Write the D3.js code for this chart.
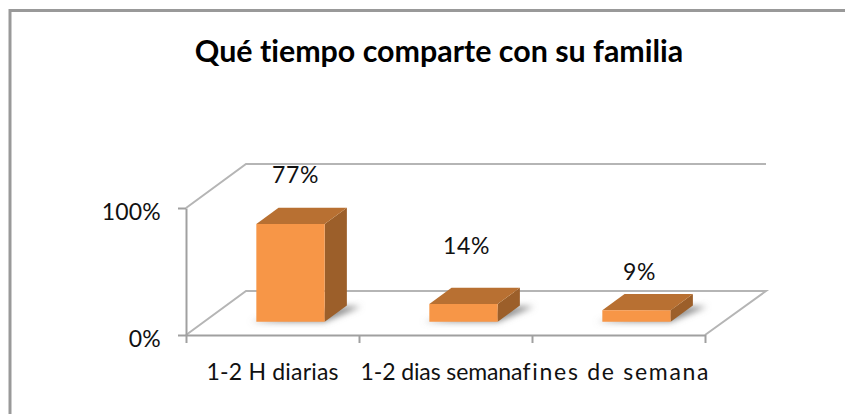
<!DOCTYPE html>
<html>
<head>
<meta charset="utf-8">
<script src="https://cdn.jsdelivr.net/npm/d3@7/dist/d3.min.js"></script>
<style>
  body { margin: 0; background: #fff; }
  svg { display: block; font-family: Lato, "Open Sans", sans-serif; font-variant-ligatures: none; }
  .wall { stroke: #b5b5b5; stroke-width: 2; fill: none; }
  .axis path, .axis line { stroke: #a0a0a0; stroke-width: 2; }
  .axis text { font-size: 23px; fill: #111; font-family: Lato, "Open Sans", sans-serif; }
</style>
</head>
<body>
<script>
var chartTitle = "Qué tiempo comparte con su familia";
var categories = ["1-2 H diarias", "1-2 dias semana", "fines de semana"];
var shares = [0.77, 0.14, 0.09];
var yTicks = [0, 1];

var width = 845, height = 414;
var plotLeft = 186, plotRight = 705, plotTop = 208, plotBottom = 335;

// depth of the fake 3d floor, and where the bars stand on it (0 front, 1 back)
var depthX = 60, depthY = -44;
var barFront = 0.3, barBack = 0.67;
var barShare = 0.395;
// the data labels were dragged by hand in the original
var labelLift = [25, 34, 14];
var labelShift = [5, 3, 3];
// the category labels are stretched and run into each other in the original
var tickLabelWidth = [132, 162, 186];
var tickLabelShift = [0, -4, -3];

var svg = d3.select("body").append("svg")
  .attr("width", width)
  .attr("height", height);

var defs = svg.append("defs");
defs.append("filter").attr("id", "soft")
  .attr("x", "-30%").attr("y", "-60%").attr("width", "160%").attr("height", "220%")
  .append("feGaussianBlur").attr("stdDeviation", 3);
defs.append("filter").attr("id", "edge")
  .append("feGaussianBlur").attr("stdDeviation", 0.5);

var x = d3.scaleBand().domain(categories).range([plotLeft, plotRight]);
var xEdges = d3.scaleLinear().domain([0, categories.length]).range([plotLeft, plotRight]);
var y = d3.scaleLinear().domain([0, 1]).range([plotBottom, plotTop]);

// project a chart position to the screen with a depth z
function px(v, z) { return v + z * depthX; }
function py(v, z) { return y(v) + z * depthY; }
function poly(points) {
  return points.map(function(p) { return p.join(","); }).join(" ");
}

// outer frame, only top and left are inside the picture
svg.append("path")
  .attr("d", d3.line()([[width, 10.5], [10, 10.5], [10, height]]))
  .attr("fill", "none")
  .attr("stroke", "#999")
  .attr("stroke-width", 3);

svg.append("text")
  .attr("x", 439)
  .attr("y", 62)
  .attr("text-anchor", "middle")
  .style("font-size", "30.4px")
  .style("font-weight", "700")
  .style("fill", "#000")
  .text(chartTitle);

// walls and floor
var walls = svg.append("g").attr("class", "wall");
walls.append("path").attr("d", d3.line()([
  [plotLeft, y(1)], [px(plotLeft, 1), py(1, 1)], [px(plotRight, 1) + 1, py(1, 1)]
]));
walls.append("path").attr("d", d3.line()([
  [plotLeft, y(0)], [px(plotLeft, 1), py(0, 1)], [px(plotRight, 1) + 1, py(0, 1)], [plotRight, y(0)]
]));

// axes
var yAxis = svg.append("g")
  .attr("class", "axis")
  .attr("transform", "translate(" + plotLeft + ",0)")
  .call(d3.axisLeft(y).tickValues(yTicks).tickFormat(d3.format(".0%")).tickSize(8).tickSizeOuter(0).tickPadding(17));
yAxis.selectAll("text").attr("dy", "0.5em").style("letter-spacing", "0.2px");

svg.append("g")
  .attr("class", "axis")
  .attr("transform", "translate(0," + plotBottom + ")")
  .call(d3.axisBottom(xEdges).tickValues(d3.range(categories.length + 1)).tickFormat("").tickSize(8).tickSizeOuter(0));

var xAxis = svg.append("g")
  .attr("class", "axis")
  .attr("transform", "translate(0," + plotBottom + ")")
  .call(d3.axisBottom(x).tickSize(0).tickPadding(29));
xAxis.select(".domain").remove();
xAxis.selectAll("text")
  .attr("textLength", function(d, i) { return tickLabelWidth[i]; })
  .attr("lengthAdjust", "spacing")
  .attr("x", function(d, i) { return tickLabelShift[i]; });

// bars
var bars = svg.selectAll(".bar")
  .data(categories)
  .enter().append("g")
  .attr("class", "bar");

function barLeft(d) { return x(d) + x.bandwidth() * (1 - barShare) / 2; }
function barRight(d) { return barLeft(d) + x.bandwidth() * barShare; }

bars.append("polygon")
  .attr("points", function(d) {
    return poly([
      [px(barLeft(d), barFront) - 6, py(0, barFront)],
      [px(barRight(d), barFront), py(0, barFront)],
      [px(barRight(d), barBack) + 14, py(0, barBack) + 1],
      [px(barRight(d), barBack) - 2, py(0, barBack) + 1]
    ]);
  })
  .attr("fill", "#8a8a8a")
  .attr("filter", "url(#soft)");

bars.append("polygon")
  .attr("fill", "#9c5f29")
  .attr("filter", "url(#edge)")
  .attr("points", function(d, i) {
    return poly([
      [px(barRight(d), barFront), py(0, barFront)],
      [px(barRight(d), barBack), py(0, barBack)],
      [px(barRight(d), barBack), py(shares[i], barBack)],
      [px(barRight(d), barFront), py(shares[i], barFront)]
    ]);
  });

bars.append("polygon")
  .attr("fill", "#b87030")
  .attr("filter", "url(#edge)")
  .attr("points", function(d, i) {
    return poly([
      [px(barLeft(d), barFront), py(shares[i], barFront)],
      [px(barRight(d), barFront), py(shares[i], barFront)],
      [px(barRight(d), barBack), py(shares[i], barBack)],
      [px(barLeft(d), barBack), py(shares[i], barBack)]
    ]);
  });

bars.append("polygon")
  .attr("fill", "#f79646")
  .attr("filter", "url(#edge)")
  .attr("points", function(d, i) {
    return poly([
      [px(barLeft(d), barFront), py(0, barFront)],
      [px(barRight(d), barFront), py(0, barFront)],
      [px(barRight(d), barFront), py(shares[i], barFront)],
      [px(barLeft(d), barFront), py(shares[i], barFront)]
    ]);
  });

bars.append("text")
  .attr("x", function(d, i) { return px(x(d) + x.bandwidth() / 2, barFront) + labelShift[i]; })
  .attr("y", function(d, i) { return py(shares[i], barBack) - labelLift[i]; })
  .attr("text-anchor", "middle")
  .style("font-size", "23px")
  .style("letter-spacing", "0.6px")
  .style("fill", "#111")
  .text(function(d, i) { return d3.format(".0%")(shares[i]); });
</script>
</body>
</html>
